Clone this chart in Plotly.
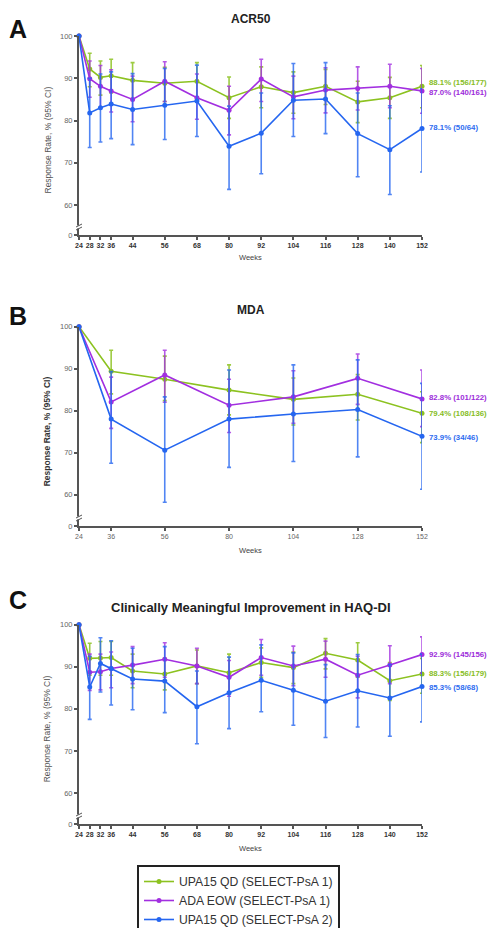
import plotly.graph_objects as go

W, H = 497, 928
PAGE_OFFSET = 8  # default body margin of the html page

# ---------------- data ----------------
weeks_A = [24, 28, 32, 36, 44, 56, 68, 80, 92, 104, 116, 128, 140, 152]
weeks_B = [24, 36, 56, 80, 104, 128, 152]
weeks_C = [24, 28, 32, 36, 44, 56, 68, 80, 92, 104, 116, 128, 140, 152]

series_names = ["UPA15 QD (SELECT-PsA 1)", "ADA EOW (SELECT-PsA 1)", "UPA15 QD (SELECT-PsA 2)"]

# Panel A: ACR50
A_green = [100, 92.2, 90.2, 90.6, 89.5, 88.8, 89.3, 85.4, 88.0, 86.6, 88.1, 84.4, 85.4, 88.1]
A_green_hi = [100, 95.9, 94.1, 94.5, 93.7, 92.6, 93.7, 90.3, 92.7, 91.5, 92.1, 89.3, 90.2, 93.0]
A_green_lo = [100, 88.0, 86.0, 86.5, 85.0, 84.5, 85.0, 80.5, 83.0, 81.7, 83.8, 79.5, 80.5, 83.0]
A_purple = [100, 89.9, 88.1, 87.0, 85.0, 89.3, 85.4, 82.4, 89.8, 85.6, 87.2, 87.6, 88.1, 87.0]
A_purple_hi = [100, 94.1, 93.0, 92.0, 90.5, 93.9, 91.0, 88.1, 94.5, 90.5, 92.5, 92.7, 93.3, 92.3]
A_purple_lo = [100, 85.5, 83.0, 82.0, 79.7, 84.5, 80.3, 76.6, 84.5, 80.4, 81.8, 82.5, 83.0, 81.7]
A_blue = [100, 81.8, 83.0, 83.9, 82.6, 83.6, 84.6, 73.9, 77.0, 84.8, 85.1, 76.9, 73.1, 78.1]
A_blue_hi = [100, 90.0, 91.0, 91.5, 91.1, 92.3, 93.1, 83.4, 86.5, 93.5, 93.7, 86.5, 83.5, 87.5]
A_blue_lo = [100, 73.6, 74.9, 75.7, 74.3, 75.5, 76.2, 63.7, 67.4, 76.2, 76.9, 66.7, 62.5, 67.8]

# Panel B: MDA
B_green = [100, 89.4, 87.5, 84.9, 82.7, 83.9, 79.4]
B_green_hi = [100, 94.4, 93.0, 90.9, 87.8, 88.6, 84.5]
B_green_lo = [100, 84.0, 82.4, 79.0, 76.6, 77.8, 72.4]
B_purple = [100, 82.1, 88.5, 81.3, 83.3, 87.7, 82.8]
B_purple_hi = [100, 88.0, 94.4, 87.5, 89.5, 93.5, 89.7]
B_purple_lo = [100, 75.8, 82.0, 74.8, 77.0, 81.5, 76.2]
B_blue = [100, 78.0, 70.6, 78.0, 79.2, 80.3, 73.9]
B_blue_hi = [100, 89.3, 83.3, 89.7, 90.9, 92.1, 86.5]
B_blue_lo = [100, 67.5, 58.2, 66.5, 67.9, 69.0, 61.3]

# Panel C: HAQ-DI
C_green = [100, 92.0, 92.1, 92.2, 89.0, 88.3, 90.2, 88.6, 91.0, 89.8, 93.2, 91.6, 86.7, 88.3]
C_green_hi = [100, 95.6, 96.0, 96.0, 93.0, 92.0, 94.0, 93.0, 94.5, 93.5, 96.7, 95.7, 91.0, 92.0]
C_green_lo = [100, 88.0, 88.0, 88.0, 85.0, 84.5, 86.0, 84.0, 87.5, 86.0, 89.5, 87.5, 82.0, 83.7]
C_purple = [100, 88.7, 88.8, 89.6, 90.4, 91.8, 90.2, 87.5, 92.2, 90.2, 91.8, 88.0, 90.4, 92.9]
C_purple_hi = [100, 93.0, 93.0, 93.5, 94.8, 95.7, 94.4, 91.5, 96.5, 94.9, 96.1, 92.5, 95.0, 97.1]
C_purple_lo = [100, 84.4, 84.5, 85.0, 86.0, 87.5, 86.0, 83.0, 88.0, 85.5, 87.5, 82.6, 86.0, 88.5]
C_blue = [100, 85.2, 90.8, 89.6, 87.1, 86.6, 80.5, 83.8, 86.8, 84.4, 81.8, 84.3, 82.6, 85.3]
C_blue_hi = [100, 92.5, 96.9, 96.2, 94.4, 94.8, 89.0, 92.3, 95.2, 93.3, 90.5, 92.9, 90.5, 93.0]
C_blue_lo = [100, 77.5, 84.0, 80.9, 79.8, 79.1, 71.7, 75.3, 79.3, 76.1, 73.2, 75.7, 73.5, 76.9]

A_end_labels = ["88.1% (156/177)", "87.0% (140/161)", "78.1% (50/64)"]
B_end_labels = ["79.4% (108/136)", "82.8% (101/122)", "73.9% (34/46)"]
C_end_labels = ["88.3% (156/179)", "92.9% (145/156)", "85.3% (58/68)"]

y_ticks = [60, 70, 80, 90, 100]
panel_titles = ["ACR50", "MDA", "Clinically Meaningful Improvement in HAQ-DI"]
panel_letters = ["A", "B", "C"]

# ---------------- styling ----------------
line_colors = ["#8CC220", "#A22FE0", "#2566F0"]
err_colors = ["rgba(140,194,32,0.85)", "rgba(162,47,224,0.8)", "rgba(37,102,240,0.8)"]
text_colors = ["#86BD1E", "#9C2BDA", "#2D6BF0"]
FONT = "Arial, Liberation Sans, sans-serif"

def fx(px):
    return (px - PAGE_OFFSET) / W

def fy(py):
    return 1 - (py - PAGE_OFFSET) / H

# pixel geometry of each panel (screen pixels): (x_left, x_right, y_top(100), y_60, y_axis)
geo = [
    (79, 422, 36.0, 205.0, 235.0),
    (79, 422, 326.7, 494.7, 526.0),
    (79, 422, 624.7, 793.0, 824.0),
]
weeks_all = [weeks_A, weeks_B, weeks_C]
data_all = [
    [(A_green, A_green_lo, A_green_hi), (A_purple, A_purple_lo, A_purple_hi), (A_blue, A_blue_lo, A_blue_hi)],
    [(B_green, B_green_lo, B_green_hi), (B_purple, B_purple_lo, B_purple_hi), (B_blue, B_blue_lo, B_blue_hi)],
    [(C_green, C_green_lo, C_green_hi), (C_purple, C_purple_lo, C_purple_hi), (C_blue, C_blue_lo, C_blue_hi)],
]
end_labels = [A_end_labels, B_end_labels, C_end_labels]
# y pixel of end labels per panel (green, purple, blue)
end_label_py = [(83, 93, 128), (413, 397.7, 437), (673, 654, 687)]
title_py = [19, 310, 607]
letter_py = [29, 316, 600]
weeks_py = [258, 550, 848]

fig = go.Figure()
layout = dict(
    width=W, height=H, margin=dict(l=0, r=0, t=0, b=0, autoexpand=False),
    paper_bgcolor="white", plot_bgcolor="white",
    font=dict(family=FONT, color="#333"),
    showlegend=True,
)
annotations = []
shapes = []

for p in range(3):
    xl, xr, yt, y60, ya = geo[p]
    ppu = (y60 - yt) / 40.0
    ybottom = 60 - (ya - y60) / ppu
    xname = "x" if p == 0 else f"x{p+1}"
    yname = "y" if p == 0 else f"y{p+1}"
    xkey = "xaxis" if p == 0 else f"xaxis{p+1}"
    ykey = "yaxis" if p == 0 else f"yaxis{p+1}"
    wk = weeks_all[p]
    for s in range(3):
        vals, lo, hi = data_all[p][s]
        fig.add_trace(go.Scatter(
            x=wk, y=vals, mode="lines+markers",
            name=series_names[s], legendgroup=series_names[s],
            showlegend=(p == 0),
            line=dict(color=line_colors[s], width=1.6),
            marker=dict(color=line_colors[s], size=5),
            error_y=dict(type="data", symmetric=False,
                         array=[h - v for h, v in zip(hi, vals)],
                         arrayminus=[v - l for v, l in zip(vals, lo)],
                         color=err_colors[s], thickness=1.6, width=2),
            cliponaxis=False,
            xaxis=xname, yaxis=yname,
        ))
    bold_x = p != 1
    layout[xkey] = dict(
        domain=[fx(xl), fx(xr)], anchor=yname, range=[24, 152], automargin=False,
        tickmode="array", tickvals=wk, ticktext=[str(w) for w in wk],
        ticks="outside", ticklen=3, tickwidth=1.5, tickcolor="#555",
        showline=True, linecolor="#555", linewidth=2, showgrid=False, zeroline=False,
        tickfont=dict(size=7, color="#333" if bold_x else "#666",
                      weight="bold" if bold_x else "normal"),
    )
    layout[ykey] = dict(
        domain=[fy(ya), fy(yt)], anchor=xname, range=[ybottom, 100], automargin=False,
        tickmode="array", tickvals=[ybottom] + y_ticks,
        ticktext=["0"] + [str(t) for t in y_ticks],
        ticks="outside", ticklen=3, tickwidth=1.5, tickcolor="#555",
        showline=True, linecolor="#555", linewidth=2, showgrid=False, zeroline=False,
        tickfont=dict(size=7.5, color="#666"),
    )
    # break marks on y axis
    yb = ya - 8
    shapes.append(dict(type="rect", xref="paper", yref="paper",
                       x0=fx(xl - 2), x1=fx(xl + 2), y0=fy(yb + 1.5), y1=fy(yb - 1.5),
                       fillcolor="white", line=dict(width=0), layer="above"))
    for d in (-1.5, 1.5):
        shapes.append(dict(type="line", xref="paper", yref="paper",
                           x0=fx(xl - 3), y0=fy(yb + d + 1.5), x1=fx(xl + 3), y1=fy(yb + d - 1.5),
                           line=dict(color="#555", width=1), layer="above"))
    # panel title
    annotations.append(dict(text=panel_titles[p], xref="paper", yref="paper",
                            x=fx(251), y=fy(title_py[p]), showarrow=False,
                            xanchor="center", yanchor="middle",
                            font=dict(size=12 if p < 2 else 13, color="#222",
                                      weight="bold" if p < 2 else 600)))
    # panel letter
    annotations.append(dict(text=panel_letters[p], xref="paper", yref="paper",
                            x=fx(7), y=fy(letter_py[p]), showarrow=False,
                            xanchor="left", yanchor="middle",
                            font=dict(size=25, color="#111", weight="bold")))
    # y axis title
    annotations.append(dict(text="Response Rate, % (95% CI)", xref="paper", yref="paper",
                            x=fx(47), y=fy((yt + ya) / 2 + 5), showarrow=False, textangle=-90,
                            xanchor="center", yanchor="middle",
                            font=dict(size=8.5, color="#555" if p != 1 else "#333",
                                      weight="normal" if p != 1 else 600)))
    # x axis title
    annotations.append(dict(text="Weeks", xref="paper", yref="paper",
                            x=fx(250), y=fy(weeks_py[p]), showarrow=False,
                            xanchor="center", yanchor="middle",
                            font=dict(size=7.5, color="#444")))
    # end labels
    for s in range(3):
        annotations.append(dict(text=end_labels[p][s], xref="paper", yref="paper",
                                x=fx(427), y=fy(end_label_py[p][s]), showarrow=False,
                                xanchor="left", yanchor="middle",
                                font=dict(size=7.8, color=text_colors[s], weight=600)))

layout["annotations"] = annotations
layout["shapes"] = shapes
layout["legend"] = dict(
    x=fx(137), y=fy(865), xanchor="left", yanchor="top",
    bordercolor="#222", borderwidth=2, bgcolor="white",
    font=dict(size=12.2, color="#333"), itemwidth=30,
    tracegroupgap=0,
)
fig.update_layout(**layout)
fig.write_html("out.html")
